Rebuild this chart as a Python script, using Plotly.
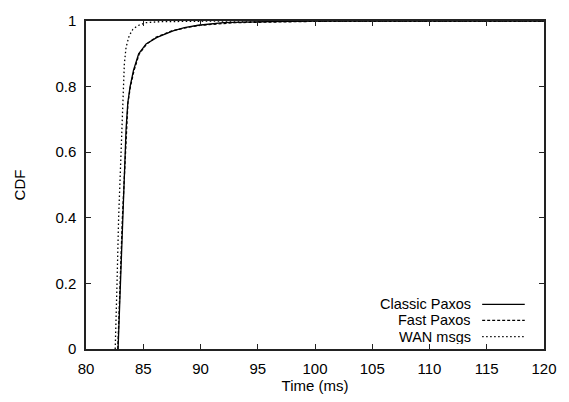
import plotly.graph_objects as go

# CDF curves (time in ms, cumulative fraction)
classic_x = [82.8, 82.85, 82.97, 83.2, 83.34, 83.5, 83.65, 83.85, 84.15, 84.6, 85.25, 86.2, 87.6, 88.6, 89.8, 92.0, 96.0, 100.0, 120.0]
classic_y = [0.0, 0.05, 0.2, 0.4, 0.53, 0.67, 0.75, 0.8, 0.85, 0.9, 0.93, 0.95, 0.97, 0.98, 0.987, 0.995, 0.998, 1.0, 1.0]

fast_x = [82.78, 82.84, 82.98, 83.18, 83.36, 83.52, 83.66, 83.88, 84.2, 84.65, 85.3, 86.1, 87.5, 88.8, 90.0, 93.0, 97.0, 102.0, 120.0]
fast_y = [0.0, 0.05, 0.2, 0.4, 0.53, 0.67, 0.75, 0.8, 0.85, 0.9, 0.93, 0.95, 0.97, 0.98, 0.987, 0.995, 0.998, 1.0, 1.0]

wan_x = [82.55, 82.6, 82.71, 82.85, 83.0, 83.11, 83.2, 83.25, 83.35, 83.5, 83.77, 84.1, 84.48, 85.2, 86.5, 92.0, 120.0]
wan_y = [0.0, 0.05, 0.2, 0.4, 0.53, 0.67, 0.75, 0.8, 0.87, 0.92, 0.955, 0.975, 0.985, 0.995, 0.998, 1.0, 1.0]

series_names = ["Classic Paxos", "Fast Paxos", "WAN msgs"]
series_dash = ["solid", "3px,2px", "1.5px,2.5px"]

x_ticks = [80, 85, 90, 95, 100, 105, 110, 115, 120]
y_ticks = [0, 0.2, 0.4, 0.6, 0.8, 1]
y_tick_labels = ["0", "0.2", "0.4", "0.6", "0.8", "1"]

FONT = "Liberation Sans, Arial, Helvetica, sans-serif"

fig = go.Figure()
for xs, ys, name, dash in zip([classic_x, fast_x, wan_x], [classic_y, fast_y, wan_y], series_names, series_dash):
    fig.add_trace(go.Scatter(x=xs, y=ys, mode="lines", name=name,
                             line=dict(color="black", width=1.3, dash=dash),
                             showlegend=False))

# gnuplot-style legend: right-aligned text followed by line sample
leg_y = [0.136, 0.087, 0.038]
for name, dash, ly in zip(series_names, series_dash, leg_y):
    fig.add_annotation(x=0.843, y=ly, xref="paper", yref="paper", text=name,
                       showarrow=False, xanchor="right", yanchor="middle",
                       height=14, borderpad=0,
                       font=dict(family=FONT, size=14.5, color="black"))
    fig.add_shape(type="line", xref="paper", yref="paper", x0=0.865, x1=0.958,
                  y0=ly, y1=ly, line=dict(color="black", width=1.3, dash=dash))

axis_common = dict(showline=True, linecolor="#222", linewidth=1.5, mirror="ticks",
                   ticks="inside", ticklen=5, tickcolor="#222", tickwidth=1,
                   showgrid=False, zeroline=False, ticklabelstandoff=5,
                   tickfont=dict(family=FONT, size=15, color="black"))

fig.update_xaxes(range=[80, 120], tickvals=x_ticks,
                 title=dict(text="Time (ms)", font=dict(family=FONT, size=15, color="black"), standoff=3),
                 **axis_common)
fig.update_yaxes(range=[0, 1], tickvals=y_ticks, ticktext=y_tick_labels,
                 title=dict(text="CDF", font=dict(family=FONT, size=15, color="black"), standoff=26),
                 **axis_common)

fig.update_layout(width=569, height=402, margin=dict(l=86, r=16, t=15, b=51),
                  plot_bgcolor="white", paper_bgcolor="white",
                  font=dict(family=FONT, size=15, color="black"))

fig.write_html("out.html", config={"displayModeBar": False},
               post_script="document.body.style.margin='0';document.body.style.padding='0';")
